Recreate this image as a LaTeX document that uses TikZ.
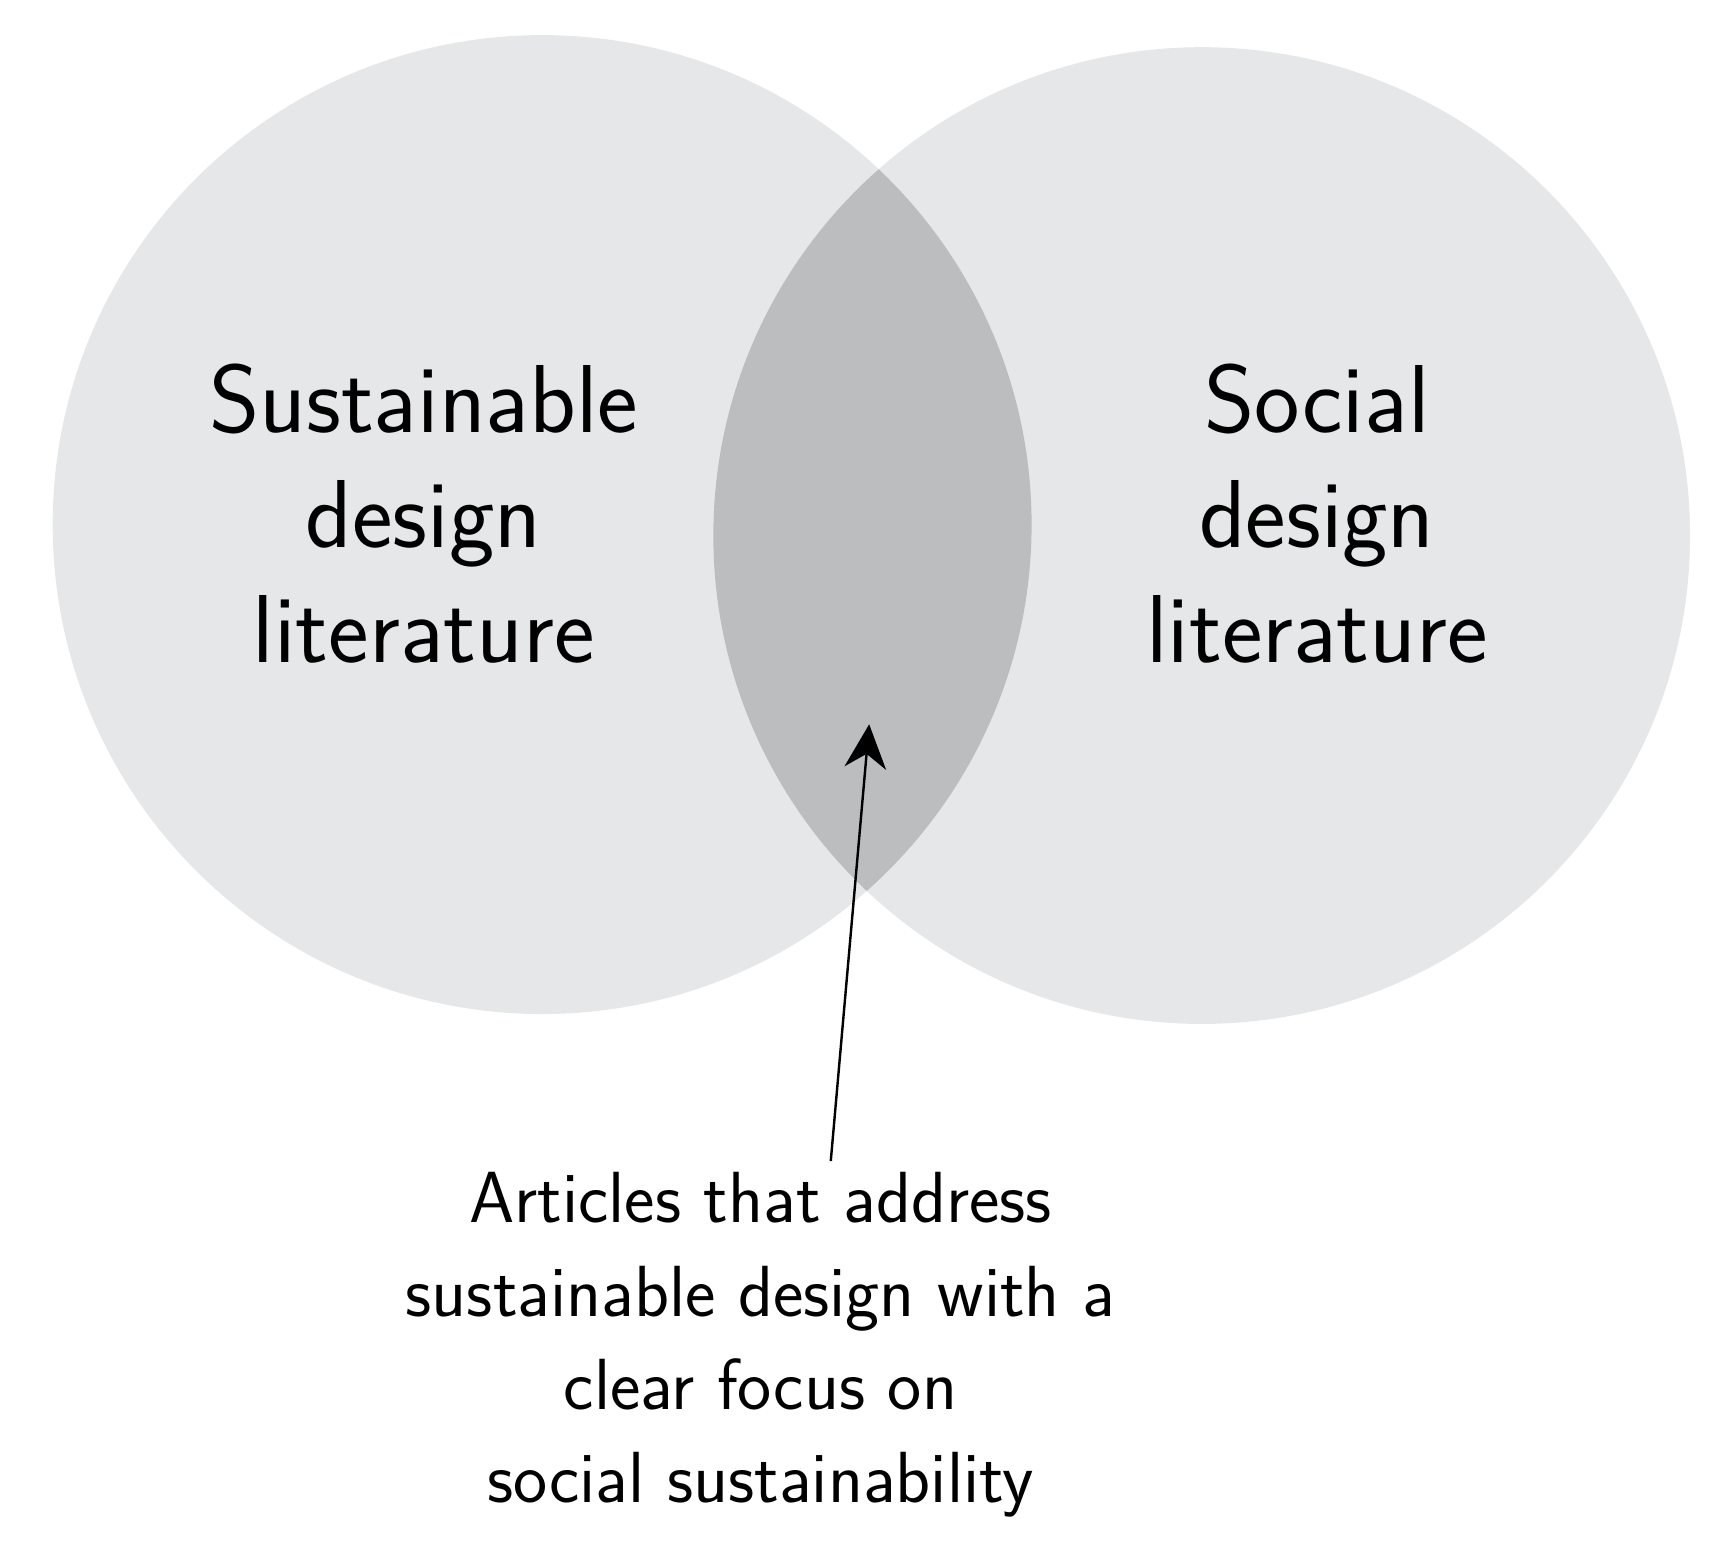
\documentclass[tikz,border=0pt]{standalone}
\usetikzlibrary{arrows.meta}
\definecolor{lg}{HTML}{E6E7E8}
\definecolor{dg}{HTML}{BCBDBF}
\begin{document}
\begin{tikzpicture}[x=1pt,y=-1pt,
  big/.style={font=\sffamily\fontsize{88}{105}\selectfont,align=center},
  small/.style={font=\sffamily\fontsize{66}{85}\selectfont,align=center}]
\useasboundingbox (0,0) rectangle (1560,1408);
\fill[lg] (494,478) circle (446);
\fill[lg] (1095,488) circle (445);
\begin{scope}
\clip (494,478) circle (446);
\fill[dg] (1095,488) circle (445);
\end{scope}
\draw[white,line width=1.2pt] (494,478) ++(0,0) (1095,488) ++(0,0);
\node[big] (l) at (386,468) {Sustainable\\design\\literature};
\node[big] (r) at (1200,468) {Social\\design\\literature};
\node[small,anchor=north] (b) at (693,1065) {Articles that address\\sustainable design with a\\clear focus on\\social sustainability};
\coordinate (tip) at (792,660);
\draw[line width=2.2pt,-{Stealth[length=40pt,width=38pt]}] (757,1058) -- (tip);
\end{tikzpicture}
\end{document}
